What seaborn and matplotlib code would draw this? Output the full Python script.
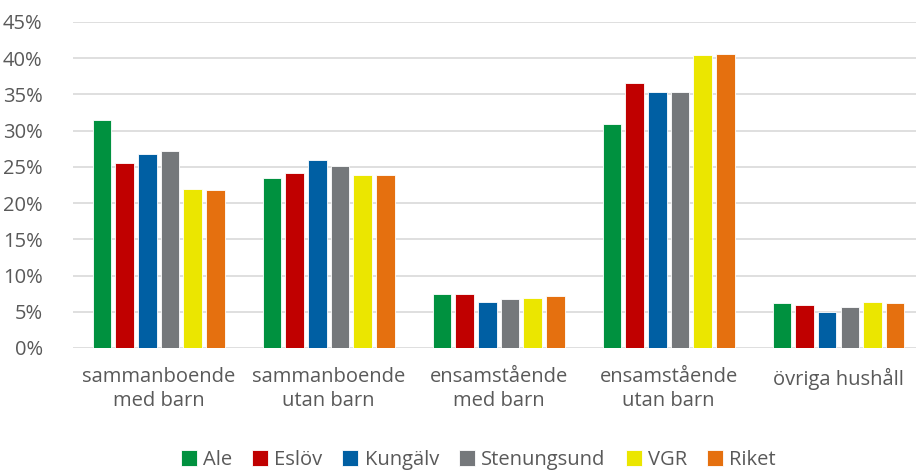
import pandas as pd
import matplotlib
matplotlib.use("Agg")
import matplotlib.pyplot as plt
import seaborn as sns
from matplotlib.ticker import PercentFormatter

# ---------------------------
# Data (share of households, %)
# ---------------------------
categories = ["sammanboende\nmed barn", "sammanboende\nutan barn", "ensamstående\nmed barn",
              "ensamstående\nutan barn", "övriga hushåll"]
areas = ["Ale", "Eslöv", "Kungälv", "Stenungsund", "VGR", "Riket"]

ale = [31.5, 23.5, 7.5, 30.9, 6.2]
eslov = [25.5, 24.2, 7.4, 36.6, 6.0]
kungalv = [26.8, 25.9, 6.4, 35.3, 5.0]
stenungsund = [27.2, 25.1, 6.7, 35.3, 5.6]
vgr = [21.9, 23.9, 6.9, 40.4, 6.4]
riket = [21.8, 23.9, 7.2, 40.6, 6.2]

colors = ["#00913F", "#C00000", "#005FA3", "#75787B", "#EBE600", "#E5700F"]

rows = []
for area, vals in zip(areas, [ale, eslov, kungalv, stenungsund, vgr, riket]):
    for cat, v in zip(categories, vals):
        rows.append({"Hushåll": cat, "Område": area, "Andel": v / 100})
df = pd.DataFrame(rows)

# ---------------------------
# Plot
# ---------------------------
sns.set_style("white")
plt.rcParams["font.family"] = ["Open Sans", "DejaVu Sans"]
text_color = "#595959"

fig = plt.figure(figsize=(9.16, 4.70), dpi=100)
ax = fig.add_axes([0.080, 0.2596, 0.92, 0.6936])

sns.barplot(data=df, x="Hushåll", y="Andel", hue="Område", order=categories,
            hue_order=areas, palette=colors, saturation=1, width=0.8, gap=0.18,
            edgecolor="white", linewidth=0.6, ax=ax)

ax.set_ylim(0, 0.45)
ax.set_xlim(-0.503, 4.456)
ax.set_yticks([i * 0.05 for i in range(10)])
ax.yaxis.set_major_formatter(PercentFormatter(1.0, decimals=0))
ax.grid(axis="y", color="#D9D9D9", linewidth=1.2)
ax.set_axisbelow(True)
for s in ax.spines.values():
    s.set_visible(False)
ax.set_xlabel("")
ax.set_ylabel("")
ax.tick_params(axis="y", length=0, pad=22, labelsize=14.5, labelcolor=text_color)
ax.tick_params(axis="x", length=0, pad=14, labelsize=14.5, labelcolor=text_color)
for lbl in ax.get_xticklabels():
    lbl.set_linespacing(1.25)

handles, labels = ax.get_legend_handles_labels()
ax.legend_.remove()
fig.legend(handles, labels, loc="center", bbox_to_anchor=(0.522, 0.021), ncol=6,
           frameon=False, handlelength=0.8, handleheight=0.8, handletextpad=0.3,
           columnspacing=1.0, fontsize=14.5, labelcolor=text_color)

fig.savefig("out.png", dpi=100)
plt.close(fig)
